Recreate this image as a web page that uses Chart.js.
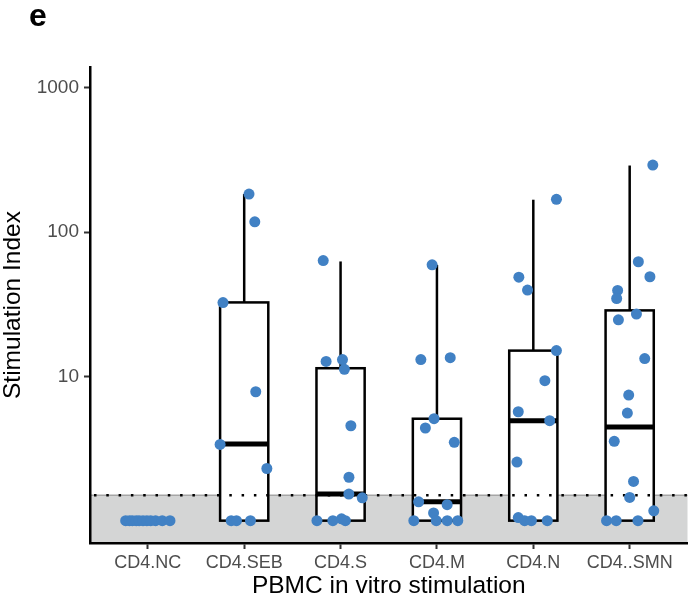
<!DOCTYPE html>
<html>
<head>
<meta charset="utf-8">
<script src="https://cdn.jsdelivr.net/npm/chart.js@4"></script>
<style>
  body { margin: 0; background: #fff; overflow: hidden; }
  #wrap { width: 688px; height: 603px; overflow: hidden; }
</style>
</head>
<body>
<!-- canvas is 5px wider than the view: Chart.js keeps a 5px strip at the right of the plot -->
<div id="wrap"><canvas id="siChart" width="693" height="603"></canvas></div>
<script>
// categories and tick labels
const categories = ['CD4.NC', 'CD4.SEB', 'CD4.S', 'CD4.M', 'CD4.N', 'CD4..SMN'];
const yTicks = [10, 100, 1000];

// box statistics
const boxQ1 = [1, 1, 1, 1, 1, 1];
const boxMedian = [1, 3.4, 1.53, 1.35, 4.93, 4.46];
const boxQ3 = [1, 32.6, 11.4, 5.09, 15.1, 28.7];
const whiskerHigh = [1, 184, 62.7, 59.4, 168, 290];

// threshold (grey band / dotted line)
const threshold = 1.5;

// individual points per group + horizontal jitter
const ncValues = [1, 1, 1, 1, 1, 1, 1, 1, 1, 1, 1];
const ncJitter = [-0.23, -0.19, -0.16, -0.12, -0.09, -0.05, -0.01, 0.03, 0.08, 0.15, 0.23];
const sebValues = [184, 118, 32.5, 7.83, 3.38, 2.3, 1, 1, 1];
const sebJitter = [0.05, 0.11, -0.22, 0.12, -0.25, 0.235, -0.135, -0.08, 0.065];
const sValues = [63.6, 12.7, 13.1, 11.2, 4.55, 2.0, 1.53, 1.44, 1, 1.03, 1, 1];
const sJitter = [-0.18, -0.15, 0.02, 0.04, 0.107, 0.087, 0.086, 0.225, -0.245, 0.01, -0.08, 0.05];
const mValues = [59.4, 13.1, 13.5, 5.09, 4.39, 3.49, 1.35, 1.29, 1.13, 1, 1, 1, 1];
const mJitter = [-0.05, -0.167, 0.138, -0.03, -0.12, 0.18, -0.19, 0.106, -0.035, -0.24, -0.007, 0.107, 0.216];
const nValues = [169, 48.8, 39.7, 15.1, 9.34, 5.69, 4.93, 2.55, 1.05, 1, 1, 1];
const nJitter = [0.24, -0.15, -0.06, 0.24, 0.12, -0.156, 0.17, -0.17, -0.156, -0.09, -0.02, 0.145];
const smnValues = [292, 62.4, 49.1, 39.5, 34.7, 27.1, 24.7, 13.3, 7.43, 5.57, 3.55, 1.87, 1.45, 1.17, 1, 1, 1];
const smnJitter = [0.24, 0.09, 0.21, -0.125, -0.135, 0.07, -0.117, 0.156, -0.01, -0.024, -0.16, 0.04, 0, 0.25, -0.24, -0.14, 0.086];

const groupValues = [ncValues, sebValues, sValues, mValues, nValues, smnValues];
const groupJitter = [ncJitter, sebJitter, sJitter, mJitter, nJitter, smnJitter];

const points = [];
groupValues.forEach((vals, g) => {
  vals.forEach((v, k) => points.push({ x: g + groupJitter[g][k], y: v }));
});

Chart.defaults.font.family = "'Liberation Sans', Arial, sans-serif";

// grey band + boxes + dotted line, drawn with the chart scales
const boxPlugin = {
  id: 'boxPlugin',
  beforeDraw(chart) {
    const { ctx, chartArea, scales: { y } } = chart;
    const yt = y.getPixelForValue(threshold);
    ctx.save();
    ctx.fillStyle = '#D4D5D5';
    ctx.fillRect(chartArea.left, yt, chartArea.right - chartArea.left, chartArea.bottom - yt);
    ctx.strokeStyle = '#A6A6A6';
    ctx.lineWidth = 1.5;
    ctx.beginPath();
    ctx.moveTo(chartArea.left, yt);
    ctx.lineTo(chartArea.right, yt);
    ctx.stroke();
    ctx.restore();
  },
  beforeDatasetsDraw(chart) {
    const { ctx, chartArea, scales: { x, y } } = chart;
    ctx.save();
    categories.forEach((c, i) => {
      const xl = x.getPixelForValue(i - 0.25);
      const xr = x.getPixelForValue(i + 0.25);
      const xc = x.getPixelForValue(i);
      const yq1 = y.getPixelForValue(boxQ1[i]);
      const yq3 = y.getPixelForValue(boxQ3[i]);
      const ymed = y.getPixelForValue(boxMedian[i]);
      const ywh = y.getPixelForValue(whiskerHigh[i]);
      ctx.strokeStyle = '#000';
      // whisker
      ctx.lineWidth = 2.5;
      ctx.beginPath();
      ctx.moveTo(xc, yq3);
      ctx.lineTo(xc, ywh);
      ctx.stroke();
      // box
      ctx.fillStyle = '#fff';
      ctx.fillRect(xl, yq3, xr - xl, yq1 - yq3);
      ctx.lineWidth = 2.5;
      ctx.strokeRect(xl, yq3, xr - xl, yq1 - yq3);
      // median
      ctx.lineWidth = 5;
      ctx.beginPath();
      ctx.moveTo(xl, ymed);
      ctx.lineTo(xr, ymed);
      ctx.stroke();
    });
    // dotted threshold line
    const yt = y.getPixelForValue(threshold);
    ctx.strokeStyle = '#000';
    ctx.lineWidth = 2.5;
    ctx.setLineDash([2.5, 9.8]);
    ctx.beginPath();
    ctx.moveTo(chartArea.left + 4, yt);
    ctx.lineTo(chartArea.right, yt);
    ctx.stroke();
    ctx.restore();
  },
  afterDraw(chart) {
    const { ctx } = chart;
    ctx.save();
    ctx.fillStyle = '#000';
    ctx.font = "bold 32px 'Liberation Sans', Arial, sans-serif";
    ctx.textBaseline = 'alphabetic';
    ctx.fillText('e', 29, 26);
    ctx.restore();
  }
};

new Chart(document.getElementById('siChart'), {
  type: 'scatter',
  data: {
    datasets: [{
      data: points,
      backgroundColor: '#4181C4',
      borderWidth: 0,
      pointRadius: 5.5,
      pointHoverRadius: 5.5
    }]
  },
  options: {
    responsive: false,
    animation: false,
    layout: { padding: { left: 0, top: 67, right: 0, bottom: 0 } },
    plugins: {
      legend: { display: false },
      tooltip: { enabled: false }
    },
    scales: {
      x: {
        type: 'linear',
        min: -0.6,
        max: 5.6,
        afterFit(s) { s.height = 60; s.paddingLeft = 0; s.paddingRight = 0; },
        afterBuildTicks(s) { s.ticks = categories.map((c, i) => ({ value: i })); },
        ticks: {
          autoSkip: false,
          maxRotation: 0,
          padding: 3,
          color: '#4D4D4D',
          font: { size: 18 },
          callback: (v) => categories[v]
        },
        grid: { drawOnChartArea: false, drawTicks: true, tickLength: 6, tickWidth: 2, tickColor: '#333' },
        border: { display: true, color: '#000', width: 2.5 },
        title: {
          display: true,
          text: 'PBMC in vitro stimulation',
          color: '#000',
          font: { size: 24.5, lineHeight: 1.2 },
          padding: { top: 0, bottom: 2 }
        }
      },
      y: {
        type: 'logarithmic',
        min: 0.704,
        max: 1398,
        afterFit(s) { s.width = 90; s.paddingTop = 0; s.paddingBottom = 0; },
        afterBuildTicks(s) { s.ticks = yTicks.map(v => ({ value: v })); },
        ticks: {
          padding: 5,
          color: '#4D4D4D',
          font: { size: 19 },
          callback: (v) => String(v)
        },
        grid: { drawOnChartArea: false, drawTicks: true, tickLength: 6, tickWidth: 2, tickColor: '#333' },
        border: { display: true, color: '#000', width: 2.5 },
        title: {
          display: true,
          text: 'Stimulation Index',
          color: '#000',
          font: { size: 24.5, lineHeight: 1.1 },
          padding: { top: 0, bottom: 0 }
        }
      }
    }
  },
  plugins: [boxPlugin]
});
</script>
</body>
</html>
